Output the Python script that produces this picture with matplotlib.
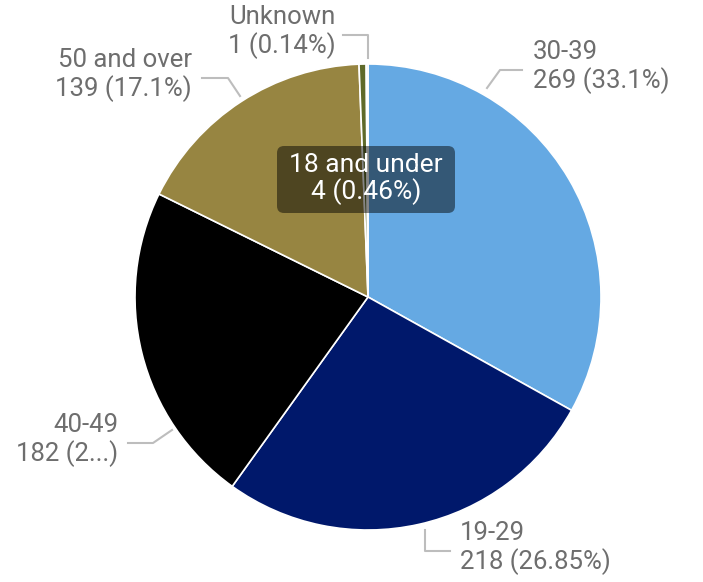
import matplotlib.pyplot as plt
import matplotlib.patches as mpatches

categories = ["30-39", "19-29", "40-49", "50 and over", "18 and under", "Unknown"]
counts = [269, 218, 182, 139, 4, 1]
pct_labels = ["33.1%", "26.85%", "2...", "17.1%", "0.46%", "0.14%"]
colors = ["#65A9E3", "#00186B", "#000000", "#978541", "#5F6A2A", "#C8C8C8"]

plt.rcParams['font.family'] = ['Roboto', 'DejaVu Sans']

W, H = 703, 582
fig = plt.figure(figsize=(W / 100, H / 100), dpi=100)
ax = fig.add_axes([0, 0, 1, 1])

cx, cy, r = 368, H - 297, 233
ax.pie(counts, colors=colors, startangle=90, counterclock=False,
       center=(cx, cy), radius=r, frame=True,
       wedgeprops=dict(edgecolor='white', linewidth=1.2))
ax.set_xlim(0, W)
ax.set_ylim(0, H)
ax.set_aspect('equal')
ax.axis('off')

grey = '#6E6E6E'
line_c = '#BDBDBD'
fs = 18.5

# label layout: (text x, text y centre, alignment, leader points in pixel coords)
layout = {
    "30-39": (533, 67, 'left', [(487, 88), (500, 70), (522, 70)]),
    "19-29": (460, 548, 'left', [(425, 530), (425, 551), (450, 551)]),
    "40-49": (118, 440, 'right', [(172, 430), (153, 443), (128, 443)]),
    "50 and over": (192, 75, 'right', [(240, 96), (228, 78), (202, 78)]),
    "Unknown": (336, 32, 'right', [(368, 58), (368, 35), (343, 35)]),
}

for cat, n, p in zip(categories, counts, pct_labels):
    if cat not in layout:
        continue
    tx, ty, ha, pts = layout[cat]
    ax.text(tx, H - ty, f"{cat}\n{n} ({p})", ha=ha, va='center',
            fontsize=fs, color=grey, linespacing=1.12)
    ax.plot([q[0] for q in pts], [H - q[1] for q in pts], color=line_c, lw=1.5)

# hover tooltip for the small slice
i = categories.index("18 and under")
box = mpatches.FancyBboxPatch((277, H - 213), 178, 67,
                              boxstyle="round,pad=0,rounding_size=7",
                              facecolor='black', alpha=0.48, edgecolor='none')
ax.add_patch(box)
ax.text(366, H - 179, f"{categories[i]}\n{counts[i]} ({pct_labels[i]})",
        ha='center', va='center', fontsize=19, color='white', linespacing=1.05)

fig.savefig('out.png', dpi=100)
